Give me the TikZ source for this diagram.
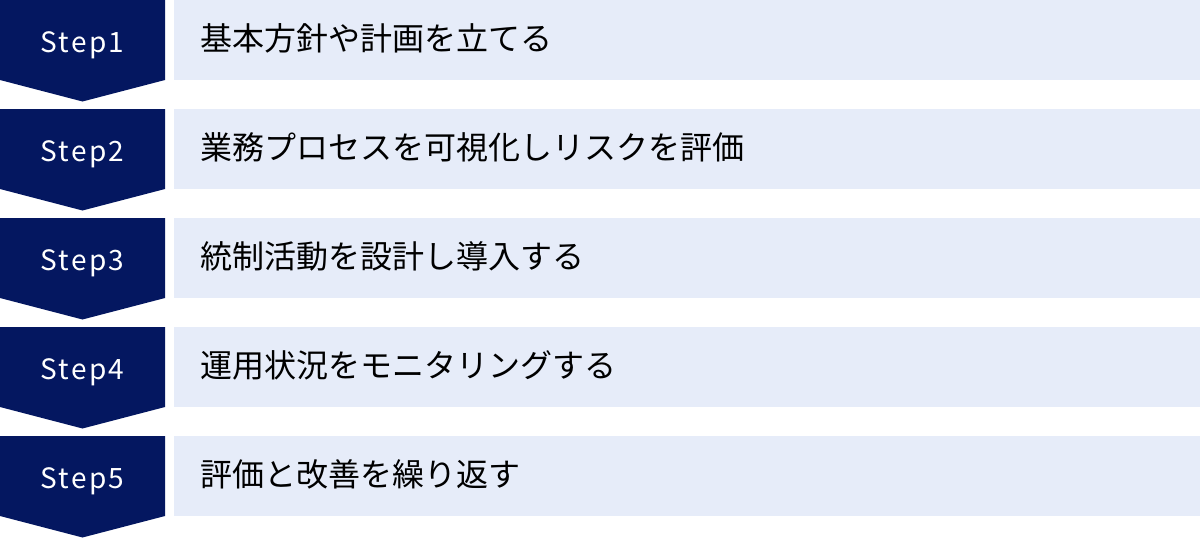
\documentclass[tikz,border=0pt]{standalone}
\usepackage{fontspec}
\usepackage{tikz}
\newfontfamily\jpfont{Noto Sans CJK JP}
\newfontfamily\stepfont[LetterSpace=8]{Noto Sans CJK JP}
\definecolor{navy}{HTML}{041760}
\definecolor{paleblue}{HTML}{E6ECF9}
\tikzset{
	steplabel/.style={text=white, font=\stepfont\fontsize{28}{32}\selectfont, anchor=base, inner sep=0pt},
	tasklabel/.style={text=black, font=\jpfont\fontsize{32}{36}\selectfont, anchor=base west, inner sep=0pt}
}

\begin{document}
\begin{tikzpicture}[x=1pt, y=-1pt]
	\useasboundingbox (0,0) rectangle (1200,538);

% flechas de los pasos
	\foreach \y [count=\i] in {0, 109, ..., 436}
	{
		\fill[navy] (0,\y) -- (165,\y) -- (165,\y+80) -- (82.5,\y+101.5) -- (0,\y+80) -- cycle;
		\fill[paleblue] (174,\y) rectangle (1200,\y+80);
		\node[steplabel] (step\i) at (82.5,\y+52) {Step\i};
	}

% textos
	\node[tasklabel] (task1) at (200,50) {基本方針や計画を立てる};
	\node[tasklabel] (task2) at (200,159) {業務プロセスを可視化しリスクを評価};
	\node[tasklabel] (task3) at (200,268) {統制活動を設計し導入する};
	\node[tasklabel] (task4) at (200,377) {運用状況をモニタリングする};
	\node[tasklabel] (task5) at (200,486) {評価と改善を繰り返す};
\end{tikzpicture}
\end{document}
